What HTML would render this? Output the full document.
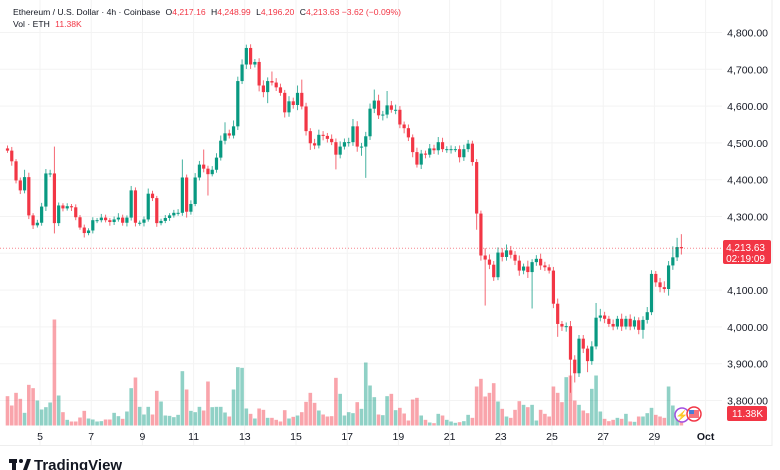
<!DOCTYPE html>
<html><head><meta charset="utf-8"><style>
html,body{margin:0;padding:0;background:#fff;width:780px;height:470px;overflow:hidden}
svg{display:block;font-family:"Liberation Sans",sans-serif}
</style></head><body>
<svg id="chart" width="780" height="470" viewBox="0 0 780 470" xmlns="http://www.w3.org/2000/svg">
<g id="grid"></g>
<g id="vol"></g>
<g id="candles"></g>
<g id="yaxis"></g>
<g id="xaxis"></g>
<line x1="772" y1="0" x2="772" y2="446" stroke="#eeeeee"/>
<line x1="0" y1="445.5" x2="772" y2="445.5" stroke="#eeeeee"/>
<line id="cpl" x1="0" x2="722" stroke="#F23645" stroke-width="1" stroke-dasharray="1,2" opacity="0.6"/>
<g id="cplabel">
<rect x="723" y="240" width="48" height="24" rx="2" fill="#F23645"/>
<text x="765" y="251" font-size="10" fill="#fff" text-anchor="end">4,213.63</text>
<text x="765" y="262" font-size="10" fill="#fff" text-anchor="end">02:19:09</text>
</g>
<g>
<rect x="727" y="406" width="40" height="15" rx="2" fill="#F23645"/>
<text x="763" y="417" font-size="10" fill="#fff" text-anchor="end">11.38K</text>
</g>
<g>
<circle cx="682" cy="415" r="7" fill="#fff" stroke="#a24fe0" stroke-width="1.5"/>
<text x="682" y="419" font-size="10" fill="#a24fe0" text-anchor="middle">⚡</text>
<circle cx="694" cy="414" r="7" fill="#fff" stroke="#F23645" stroke-width="1.5"/>
<rect x="689" y="410" width="10" height="8" fill="#F23645" opacity="0.7"/>
<rect x="689" y="410" width="5" height="4" fill="#4a7fd6"/>
</g>
<g font-size="8.6">
<text x="13" y="15" fill="#131722">Ethereum / U.S. Dollar · 4h · Coinbase <tspan dx="3" fill="#131722">O</tspan><tspan fill="#F23645">4,217.16</tspan> <tspan dx="3" fill="#131722">H</tspan><tspan fill="#F23645">4,248.99</tspan> <tspan dx="3" fill="#131722">L</tspan><tspan fill="#F23645">4,196.20</tspan> <tspan dx="3" fill="#131722">C</tspan><tspan fill="#F23645">4,213.63</tspan> <tspan fill="#F23645">−3.62 (−0.09%)</tspan></text>
<text x="13" y="27" fill="#131722">Vol · ETH <tspan fill="#F23645" dx="3">11.38K</tspan></text>
</g>
<g>
<rect x="9" y="459" width="8" height="4" fill="#131722"/>
<rect x="12" y="459" width="4" height="11" fill="#131722"/>
<circle cx="21" cy="461" r="2" fill="#131722"/>
<polygon points="23,470 27,459 31,459 27,470" fill="#131722"/>
<text x="34" y="470" font-size="15" font-weight="bold" fill="#131722">TradingView</text>
</g>
</svg>
<script>
const closes=[4479,4450,4398,4371,4407,4303,4276,4283,4327,4417,4417,4282,4330,4322,4328,4325,4298,4270,4255,4262,4290,4290,4297,4290,4285,4292,4297,4283,4297,4371,4283,4283,4292,4362,4350,4282,4288,4296,4303,4310,4310,4406,4313,4334,4406,4441,4430,4415,4427,4460,4506,4526,4520,4545,4668,4713,4758,4713,4720,4656,4638,4668,4664,4651,4636,4583,4613,4603,4636,4599,4532,4499,4493,4522,4519,4511,4502,4468,4490,4502,4502,4545,4490,4490,4518,4593,4615,4575,4577,4602,4590,4590,4550,4540,4515,4475,4441,4471,4468,4485,4480,4502,4483,4483,4483,4483,4461,4483,4498,4448,4308,4194,4183,4169,4135,4202,4190,4208,4196,4180,4153,4164,4149,4176,4185,4167,4162,4153,4063,4008,4001,4002,3911,3874,3968,3941,3907,3947,4025,4031,4022,4008,4001,4022,4001,4022,4001,4018,3992,4019,4040,4144,4121,4108,4103,4167,4189,4217,4213.63];
const firstOpen=4485;
const wickUp=[8,10,6,8,20,12,6,8,10,12,10,73,8,6,8,6,8,6,8,6,8,6,10,8,6,8,12,8,6,12,8,6,8,14,8,6,6,8,6,8,10,49,8,10,12,10,41,8,10,12,14,30,10,16,12,14,9,10,8,10,14,10,26,12,10,8,14,10,20,36,10,8,12,14,10,8,12,10,14,10,12,20,14,10,12,14,30,16,10,39,12,14,10,8,10,8,12,10,8,12,10,14,12,8,10,8,10,12,10,8,8,8,20,14,10,14,12,16,12,10,14,8,16,8,10,14,10,8,10,14,8,10,14,12,10,10,8,14,40,18,10,8,12,8,14,8,12,10,8,10,14,10,8,12,16,12,30,25,35];
const wickDn=[6,12,8,10,8,10,10,6,8,12,10,28,8,8,6,10,8,6,12,6,8,8,6,6,10,8,6,8,10,8,10,8,10,6,8,10,6,6,8,6,8,8,16,8,6,8,10,58,6,8,8,10,8,8,10,8,12,12,8,16,14,30,8,10,8,14,12,10,14,8,12,18,10,8,12,10,8,40,10,8,12,10,14,25,85,10,12,10,14,10,8,12,10,14,10,14,8,12,10,8,10,12,8,10,12,8,14,10,8,10,44,14,125,12,10,8,12,10,10,12,14,10,16,99,10,12,10,8,12,35,12,14,90,25,10,12,30,10,8,10,12,8,10,8,12,8,10,8,12,24,10,8,12,14,10,18,12,10,17];
const volumes=[88,60,98,80,38,122,112,75,48,55,69,318,90,40,17,12,12,24,44,21,18,12,13,18,18,38,28,20,42,112,144,56,33,56,33,104,72,30,29,25,32,163,108,44,40,56,45,132,55,56,56,39,27,108,175,173,51,35,21,51,47,23,23,17,12,46,21,26,30,40,71,98,68,45,33,27,28,143,95,30,40,37,70,50,189,120,85,33,31,88,95,46,53,36,15,78,83,30,17,9,7,35,30,17,12,8,10,13,32,23,117,140,87,98,127,72,50,27,23,47,73,62,55,62,15,47,35,27,117,98,70,145,150,75,62,45,37,110,150,42,20,13,17,23,20,35,12,11,27,27,37,53,32,27,23,117,60,45,25];
const priceTicks=[4800,4700,4600,4500,4400,4300,4200,4100,4000,3900,3800];
const priceTickLabels=["4,800.00","4,700.00","4,600.00","4,500.00","4,400.00","4,300.00","4,200.00","4,100.00","4,000.00","3,900.00","3,800.00"];
const dayTicks=[5,7,9,11,13,15,17,19,21,23,25,27,29,31];
const dayTickLabels=["5","7","9","11","13","15","17","19","21","23","25","27","29","Oct"];

const NS="http://www.w3.org/2000/svg";
function yP(p){return 32.5+(4800-p)*0.368;}
function xI(i){return 7.5+i*4.265;}
function xD(d){return 40+(d-5)*25.6;}
function vH(v){return v/3;}
const VBASE=425.5;
function mk(tag,attrs,parent){const e=document.createElementNS(NS,tag);for(const k in attrs)e.setAttribute(k,attrs[k]);parent.appendChild(e);return e;}
const G=document.getElementById('grid'),C=document.getElementById('candles'),V=document.getElementById('vol'),YA=document.getElementById('yaxis'),XA=document.getElementById('xaxis');
priceTicks.forEach((p,k)=>{
  const l=mk('line',{x1:0,x2:722,y1:yP(p),y2:yP(p),stroke:'#f3f3f3'},G);
  
  
  const t=mk('text',{x:768,y:yP(p)+4,'font-size':10.5,fill:'#131722','text-anchor':'end'},YA);
  t.textContent=priceTickLabels[k];
  
  
});
dayTicks.forEach((d,k)=>{
  const l=mk('line',{x1:xD(d),x2:xD(d),y1:0,y2:445,stroke:'#f3f3f3'},G);
  
  
  const t=mk('text',{x:xD(d),y:440,'font-size':10.5,fill:'#131722','text-anchor':'middle','font-weight':dayTickLabels[k]==='Oct'?'bold':'normal'},XA);
  t.textContent=dayTickLabels[k];
  
  
});
closes.forEach((c,i)=>{
  const o=i===0?firstOpen:closes[i-1];
  const up=c>=o;
  const col=up?'#089981':'#F23645';
  const x=xI(i);
  const hi=Math.max(o,c)+wickUp[i], lo=Math.min(o,c)-wickDn[i];
  const w=mk('line',{x1:x,x2:x,y1:yP(hi),y2:yP(lo),stroke:col,'stroke-width':1,opacity:0.75},C);
  
  
  const top=yP(Math.max(o,c)),bot=yP(Math.min(o,c));
  const b=mk('rect',{x:x-1.6,y:top,width:3.2,height:Math.max(1,bot-top),fill:col},C);
  
  
  const h=vH(volumes[i]);
  const vb=mk('rect',{x:x-1.8,y:VBASE-h,width:3.6,height:h,fill:up?'rgba(8,153,129,0.45)':'rgba(242,54,69,0.45)'},V);
  
  
});
const cp=closes[closes.length-1];
document.getElementById('cpl').setAttribute('y1',yP(cp));
document.getElementById('cpl').setAttribute('y2',yP(cp));
</script>
</body></html>
